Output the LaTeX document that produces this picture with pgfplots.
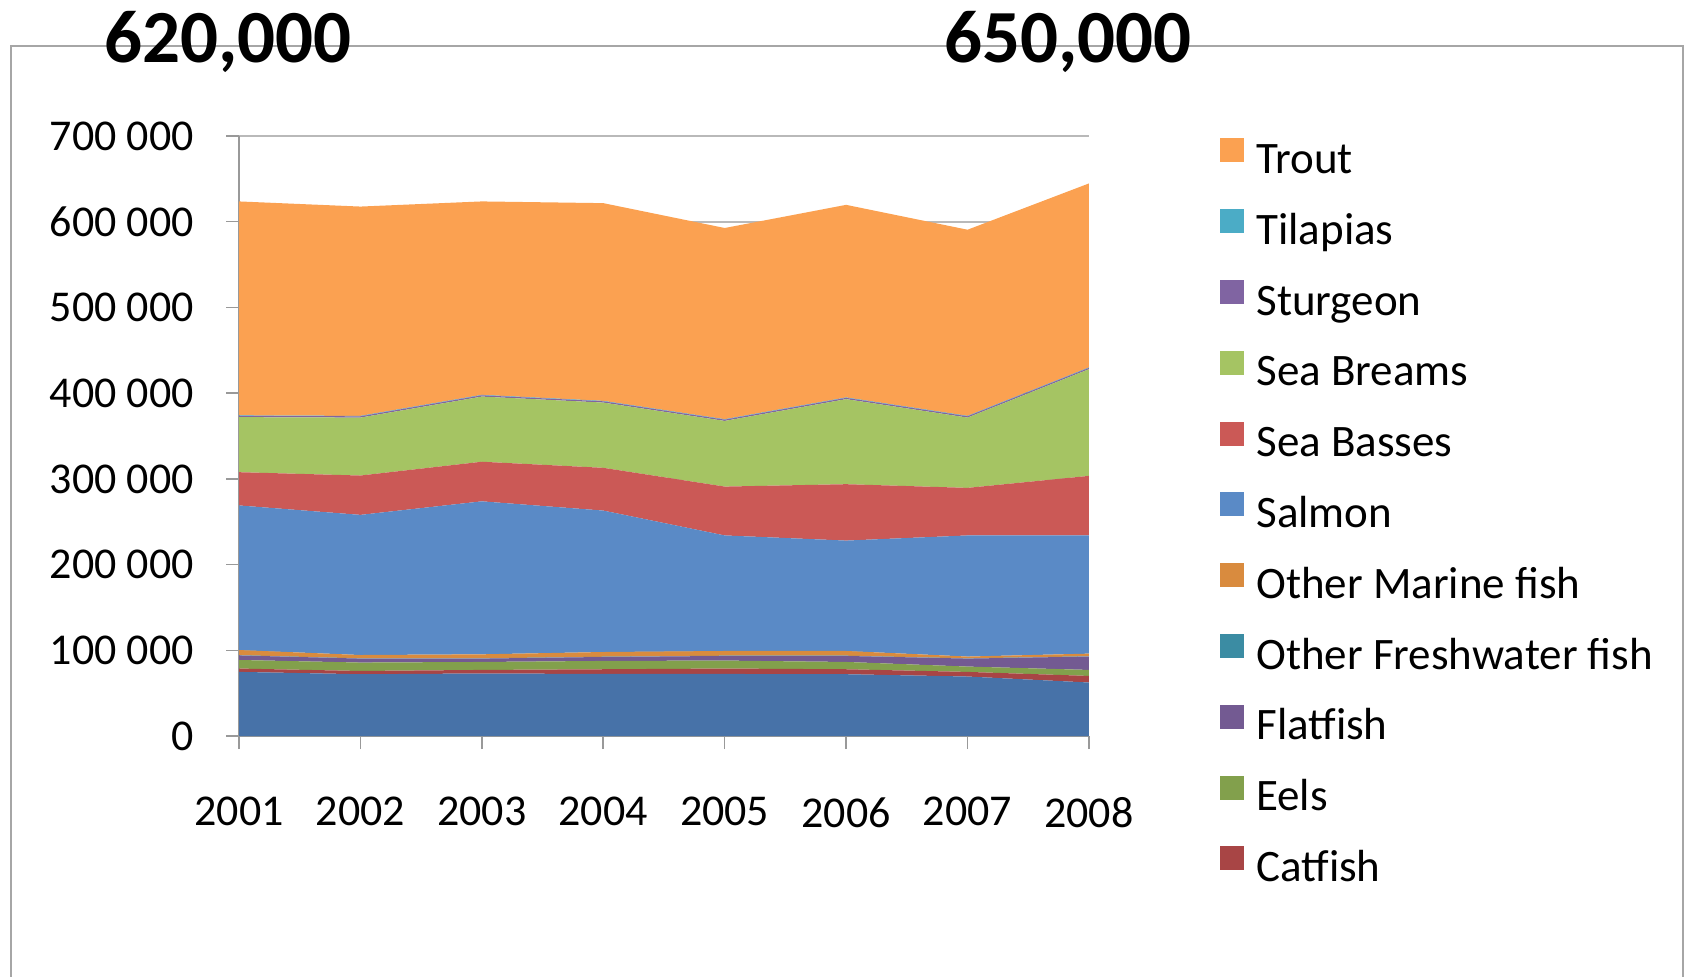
\documentclass[border=0pt]{standalone}
\usepackage{fontspec}
\setmainfont{Carlito}
\usepackage{pgfplots}
\pgfplotsset{compat=1.18}

\definecolor{cCarps}{HTML}{4772A8}
\definecolor{cCatfish}{HTML}{A84545}
\definecolor{cEels}{HTML}{82A04C}
\definecolor{cFlat}{HTML}{735A92}
\definecolor{cOFW}{HTML}{3B8CA3}
\definecolor{cOM}{HTML}{D98B3E}
\definecolor{cSalmon}{HTML}{5A8AC6}
\definecolor{cBass}{HTML}{CB5956}
\definecolor{cBream}{HTML}{A5C463}
\definecolor{cSturg}{HTML}{8064A2}
\definecolor{cTilap}{HTML}{4BACC6}
\definecolor{cTrout}{HTML}{FBA151}

\begin{document}
\begin{tikzpicture}
\path[use as bounding box] (0,0) rectangle (844pt,-488pt);
% chart frame
\draw[gray!70, line width=1pt] (5.4pt,-500pt) -- (5.4pt,-23.1pt) -- (841.3pt,-23.1pt) -- (841.3pt,-500pt);

\begin{axis}[
    at={(119.5pt,-368pt)}, anchor=south west,
    scale only axis, width=425pt, height=300pt,
    xmin=2001, xmax=2008, ymin=0, ymax=700000,
    stack plots=y,
    axis lines*=left,
    axis line style={gray!80, line width=0.75pt},
    xtick={2001,...,2008},
    xticklabels={2001,2002,2003,2004,2005,2006,2007,2008},
    ytick={0,100000,...,700000},
    yticklabels={0,100 000,200 000,300 000,400 000,500 000,600 000,700 000},
    scaled y ticks=false,
    tick align=outside, major tick length=6.5pt,
    tick style={gray!80, line width=0.75pt},
    ymajorgrids, grid style={gray!55, line width=1.2pt},
    /pgf/number format/assume math mode=true,
    tick label style={font=\fontsize{22}{26}\selectfont, inner sep=0pt},
    yticklabel style={anchor=east, xshift=-16pt},
    xticklabel style={anchor=north, yshift=-24pt},
    reverse legend,
    legend cell align=left,
    legend image code/.code={\fill[#1] (0pt,0pt) rectangle (12pt,12pt);},
    legend style={at={(1.1541,0.9967)}, anchor=north west, draw=none, fill=none,
        font=\fontsize{22.5}{26}\selectfont, inner sep=0pt, row sep=12.9pt, column sep=6pt,
        nodes={inner sep=0pt, text height=16pt, text depth=5pt}},
]
% Carps (bottom, not in legend)
\addplot[draw=none, fill=cCarps, forget plot] coordinates {(2001,74800) (2002,72100) (2003,72900) (2004,72400) (2005,72400) (2006,72100) (2007,69400) (2008,62400)} \closedcycle;
% Catfish
\addplot[draw=none, fill=cCatfish] coordinates {(2001,3900) (2002,3800) (2003,4200) (2004,5500) (2005,6300) (2006,5800) (2007,5400) (2008,7700)} \closedcycle;
\addlegendentry{Catfish}
% Eels
\addplot[draw=none, fill=cEels] coordinates {(2001,10000) (2002,9800) (2003,9300) (2004,9700) (2005,9300) (2006,8500) (2007,6200) (2008,7000)} \closedcycle;
\addlegendentry{Eels}
% Flatfish
\addplot[draw=none, fill=cFlat] coordinates {(2001,5300) (2002,4600) (2003,3900) (2004,4600) (2005,5400) (2006,7000) (2007,9300) (2008,15600)} \closedcycle;
\addlegendentry{Flatfish}
% Other Freshwater fish
\addplot[draw=none, fill=cOFW] coordinates {(2001,300) (2002,300) (2003,300) (2004,300) (2005,300) (2006,300) (2007,300) (2008,300)} \closedcycle;
\addlegendentry{Other Freshwater fish}
% Other Marine fish
\addplot[draw=none, fill=cOM] coordinates {(2001,6000) (2002,3900) (2003,4700) (2004,5500) (2005,5500) (2006,5500) (2007,2100) (2008,3100)} \closedcycle;
\addlegendentry{Other Marine fish}
% Salmon
\addplot[draw=none, fill=cSalmon] coordinates {(2001,168700) (2002,163500) (2003,178500) (2004,165000) (2005,134800) (2006,128800) (2007,141300) (2008,137900)} \closedcycle;
\addlegendentry{Salmon}
% Sea Basses
\addplot[draw=none, fill=cBass] coordinates {(2001,38800) (2002,45900) (2003,46200) (2004,49900) (2005,57000) (2006,65800) (2007,55500) (2008,69500)} \closedcycle;
\addlegendentry{Sea Basses}
% Sea Breams
\addplot[draw=none, fill=cBream] coordinates {(2001,64200) (2002,67600) (2003,76000) (2004,76100) (2005,76600) (2006,99200) (2007,82000) (2008,124500)} \closedcycle;
\addlegendentry{Sea Breams}
% Sturgeon
\addplot[draw=none, fill=cSturg] coordinates {(2001,1500) (2002,1500) (2003,1500) (2004,1500) (2005,1500) (2006,1500) (2007,1500) (2008,1500)} \closedcycle;
\addlegendentry{Sturgeon}
% Tilapias
\addplot[draw=none, fill=cTilap] coordinates {(2001,500) (2002,500) (2003,500) (2004,500) (2005,500) (2006,500) (2007,500) (2008,500)} \closedcycle;
\addlegendentry{Tilapias}
% Trout
\addplot[draw=none, fill=cTrout] coordinates {(2001,249700) (2002,244200) (2003,225700) (2004,230700) (2005,223100) (2006,224700) (2007,217200) (2008,214700)} \closedcycle;
\addlegendentry{Trout}
\end{axis}

\node[anchor=base west, inner sep=0pt, font=\bfseries\fontsize{37.5}{40}\selectfont] at (52pt,-31.2pt) {620,000};
\node[anchor=base west, inner sep=0pt, font=\bfseries\fontsize{37.5}{40}\selectfont] at (472pt,-31.2pt) {650,000};
\end{tikzpicture}
\end{document}
